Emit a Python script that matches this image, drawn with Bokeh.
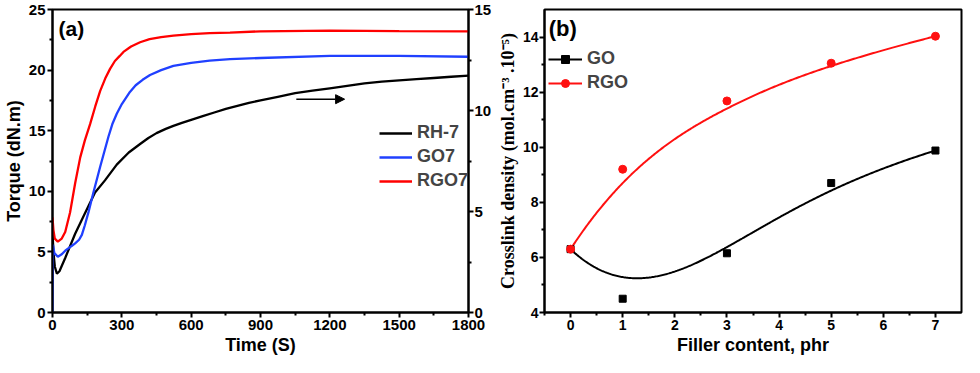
import numpy as np
from bokeh.plotting import figure
from bokeh.layouts import row
from bokeh.models import (Range1d, LinearAxis, FixedTicker, Legend, LegendItem,
                          Label, Arrow, NormalHead)
from bokeh.embed import file_html
from bokeh.resources import INLINE

# ---------------- Data: panel (a) rheometer torque curves ----------------
rh7_time = [0, 4, 10, 19, 30, 55, 98, 141, 184, 227, 278, 330, 379, 415, 450, 490,
            523, 560, 600, 650, 700, 750, 800, 850, 900, 975, 1050, 1125, 1200,
            1275, 1350, 1425, 1500, 1575, 1650, 1725, 1800]
rh7_torque = [6.6, 5.0, 3.8, 3.2, 3.4, 4.5, 6.5, 8.2, 9.9, 10.9, 12.2, 13.2, 13.9,
              14.4, 14.8, 15.15, 15.4, 15.65, 15.9, 16.2, 16.5, 16.8, 17.05, 17.3,
              17.5, 17.8, 18.1, 18.3, 18.5, 18.7, 18.9, 19.05, 19.15, 19.25, 19.35,
              19.45, 19.55]

go7_time = [0, 2, 8, 23, 40, 55, 80, 98, 115, 127, 140, 156, 177, 206, 242, 260,
            278, 300, 335, 360, 390, 422, 470, 523, 600, 680, 768, 900, 1200,
            1500, 1800]
go7_torque = [0, 5.6, 4.9, 4.6, 4.8, 5.1, 5.45, 5.7, 6.0, 6.4, 7.2, 8.3, 9.9, 12.0,
              14.5, 15.6, 16.4, 17.2, 18.2, 18.75, 19.2, 19.6, 20.0, 20.35, 20.6,
              20.78, 20.9, 21.0, 21.17, 21.17, 21.1]

rgo7_time = [0, 4, 10, 23, 40, 55, 76, 98, 120, 140, 163, 185, 206, 228, 249, 270,
             290, 307, 340, 379, 420, 470, 523, 600, 680, 768, 900, 1200, 1500, 1800]
rgo7_torque = [7.85, 6.8, 6.1, 5.85, 6.1, 6.64, 8.25, 10.67, 12.8, 14.2, 15.56,
               17.0, 18.26, 19.3, 20.1, 20.75, 21.15, 21.5, 21.95, 22.3, 22.55,
               22.72, 22.84, 22.97, 23.05, 23.1, 23.2, 23.25, 23.22, 23.2]

a_series = ["RH-7", "GO7", "RGO7"]
arrow_time = [1055, 1264]
arrow_level = 17.6

# ---------------- Data: panel (b) crosslink density ----------------
filler = [0, 1, 3, 5, 7]
go_density = [6.3, 4.5, 6.15, 8.7, 9.88]
rgo_density = [6.3, 9.2, 11.68, 13.05, 14.03]
b_series = ["GO", "RGO"]

a_xticks = [0, 300, 600, 900, 1200, 1500, 1800]
a_yticks = [0, 5, 10, 15, 20, 25]
a_rticks = [0, 5, 10, 15]
b_xticks = [0, 1, 2, 3, 4, 5, 6, 7]
b_yticks = [4, 6, 8, 10, 12, 14]

SANS = "Liberation Sans"
SERIF = "Liberation Serif"


def bspline(xs, ys, n=300, k=3):
    P = np.column_stack([xs, ys]).astype(float)
    m = len(P)
    t = np.concatenate([np.zeros(k), np.linspace(0, 1, m - k + 1), np.ones(k)])
    u = np.linspace(0, 1, n)
    u[-1] = 1 - 1e-10

    def N(i, kk):
        if kk == 0:
            return ((t[i] <= u) & (u < t[i + 1])).astype(float)
        out = np.zeros_like(u)
        if t[i + kk] != t[i]:
            out += (u - t[i]) / (t[i + kk] - t[i]) * N(i, kk - 1)
        if t[i + kk + 1] != t[i + 1]:
            out += (t[i + kk + 1] - u) / (t[i + kk + 1] - t[i + 1]) * N(i + 1, kk - 1)
        return out

    B = np.column_stack([N(i, k) for i in range(m)])
    C = B @ P
    return C[:, 0], C[:, 1]


def style_axis(ax, size="15px"):
    ax.axis_line_width = 2
    ax.major_tick_line_width = 2
    ax.minor_tick_line_width = 2
    ax.major_tick_in = 0
    ax.major_tick_out = 5
    ax.minor_tick_in = 0
    ax.minor_tick_out = 3
    ax.major_label_text_font = SANS
    ax.major_label_text_font_style = "bold"
    ax.major_label_text_font_size = size
    ax.major_label_text_color = "black"
    ax.major_label_text_line_height = 1.0
    ax.major_label_standoff = 2
    ax.axis_label_text_font = SANS
    ax.axis_label_text_font_style = "bold"
    ax.axis_label_text_font_size = "18px"
    ax.axis_label_text_color = "black"
    ax.axis_label_text_line_height = 1.0
    ax.axis_label_standoff = 2


# ---------------- Panel (a) ----------------
pa = figure(width=494, height=357, output_backend="svg", toolbar_location=None,
            x_range=Range1d(0, 1800), y_range=Range1d(0, 25),
            min_border_left=46, min_border_right=10, min_border_top=9,
            min_border_bottom=45)
pa.outline_line_color = "black"
pa.outline_line_width = 2
pa.xgrid.visible = False
pa.ygrid.visible = False
pa.extra_y_ranges = {"right": Range1d(0, 15)}

r1 = pa.line(rh7_time, rh7_torque, line_color="black", line_width=2.3)
r2 = pa.line(go7_time, go7_torque, line_color="#2040ff", line_width=2.3)
r3 = pa.line(rgo7_time, rgo7_torque, line_color="#ff0000", line_width=2.3)

pa.xaxis.ticker = FixedTicker(ticks=a_xticks, minor_ticks=[150, 450, 750, 1050, 1350, 1650])
pa.yaxis.ticker = FixedTicker(ticks=a_yticks, minor_ticks=[2.5, 7.5, 12.5, 17.5, 22.5])
pa.xaxis.axis_label = "Time (S)"
pa.yaxis.axis_label = "Torque (dN.m)"
style_axis(pa.xaxis[0])
style_axis(pa.yaxis[0])

rax = LinearAxis(y_range_name="right",
                 ticker=FixedTicker(ticks=a_rticks, minor_ticks=[2.5, 7.5, 12.5]))
style_axis(rax)
rax.major_label_standoff = 1
pa.add_layout(rax, "right")

pa.add_layout(Arrow(end=NormalHead(size=9, fill_color="black", line_color="black"),
                    x_start=arrow_time[0], y_start=arrow_level,
                    x_end=arrow_time[1], y_end=arrow_level,
                    line_color="black", line_width=1.5))

pa.add_layout(Label(x=26, y=24.35, text="(a)", text_font=SANS, text_font_style="bold",
                    text_font_size="21px", text_baseline="top", text_color="black"))

leg_a = Legend(items=[LegendItem(label=a_series[0], renderers=[r1]),
                      LegendItem(label=a_series[1], renderers=[r2]),
                      LegendItem(label=a_series[2], renderers=[r3])],
               location=(327, 121), background_fill_alpha=0, border_line_alpha=0,
               padding=0, margin=0, spacing=3, glyph_width=33, glyph_height=20,
               label_height=20, label_standoff=5,
               label_text_font=SANS, label_text_font_style="bold",
               label_text_font_size="18px")
pa.add_layout(leg_a)

# ---------------- Panel (b) ----------------
pb = figure(width=470, height=357, output_backend="svg", toolbar_location=None,
            x_range=Range1d(-0.5, 7.5), y_range=Range1d(4, 15),
            min_border_left=40, min_border_right=3, min_border_top=9,
            min_border_bottom=45)
pb.outline_line_color = "black"
pb.outline_line_width = 2
pb.xgrid.visible = False
pb.ygrid.visible = False

gx, gy = bspline(filler, go_density)
rx, ry = bspline(filler, rgo_density)
l_go = pb.line(gx, gy, line_color="black", line_width=2)
l_rgo = pb.line(rx, ry, line_color="#ff1010", line_width=2)
s_go = pb.scatter(filler, go_density, marker="square", size=7, fill_color="black",
                  line_color="black")
s_rgo = pb.scatter(filler, rgo_density, marker="circle", size=8, fill_color="#ff1010",
                   line_color="#ff1010")

pb.xaxis.ticker = FixedTicker(ticks=b_xticks,
                              minor_ticks=[-0.5, 0.5, 1.5, 2.5, 3.5, 4.5, 5.5, 6.5])
pb.yaxis.ticker = FixedTicker(ticks=b_yticks, minor_ticks=[5, 7, 9, 11, 13])
pb.xaxis.axis_label = "Filler content, phr"
pb.yaxis.axis_label = "Crosslink density (mol.cm\u207b\u00b3 .10\u207b\u2075)"
style_axis(pb.xaxis[0], "14px")
style_axis(pb.yaxis[0], "14px")
pb.yaxis.axis_label_text_font = SERIF
pb.yaxis.axis_label_standoff = 2
pb.yaxis.major_label_standoff = 1

pb.add_layout(Label(x=-0.42, y=14.75, text="(b)", text_font=SANS, text_font_style="bold",
                    text_font_size="22px", text_baseline="top", text_color="black"))

leg_b = Legend(items=[LegendItem(label=b_series[0], renderers=[l_go, s_go]),
                      LegendItem(label=b_series[1], renderers=[l_rgo, s_rgo])],
               location=(4, 219), background_fill_alpha=0, border_line_alpha=0,
               padding=0, margin=0, spacing=3, glyph_width=34, glyph_height=20,
               label_height=20, label_standoff=5,
               label_text_font=SANS, label_text_font_style="bold",
               label_text_font_size="18px")
pb.add_layout(leg_b)

layout = row(pa, pb)
open("out.html", "w").write(file_html(layout, INLINE))
